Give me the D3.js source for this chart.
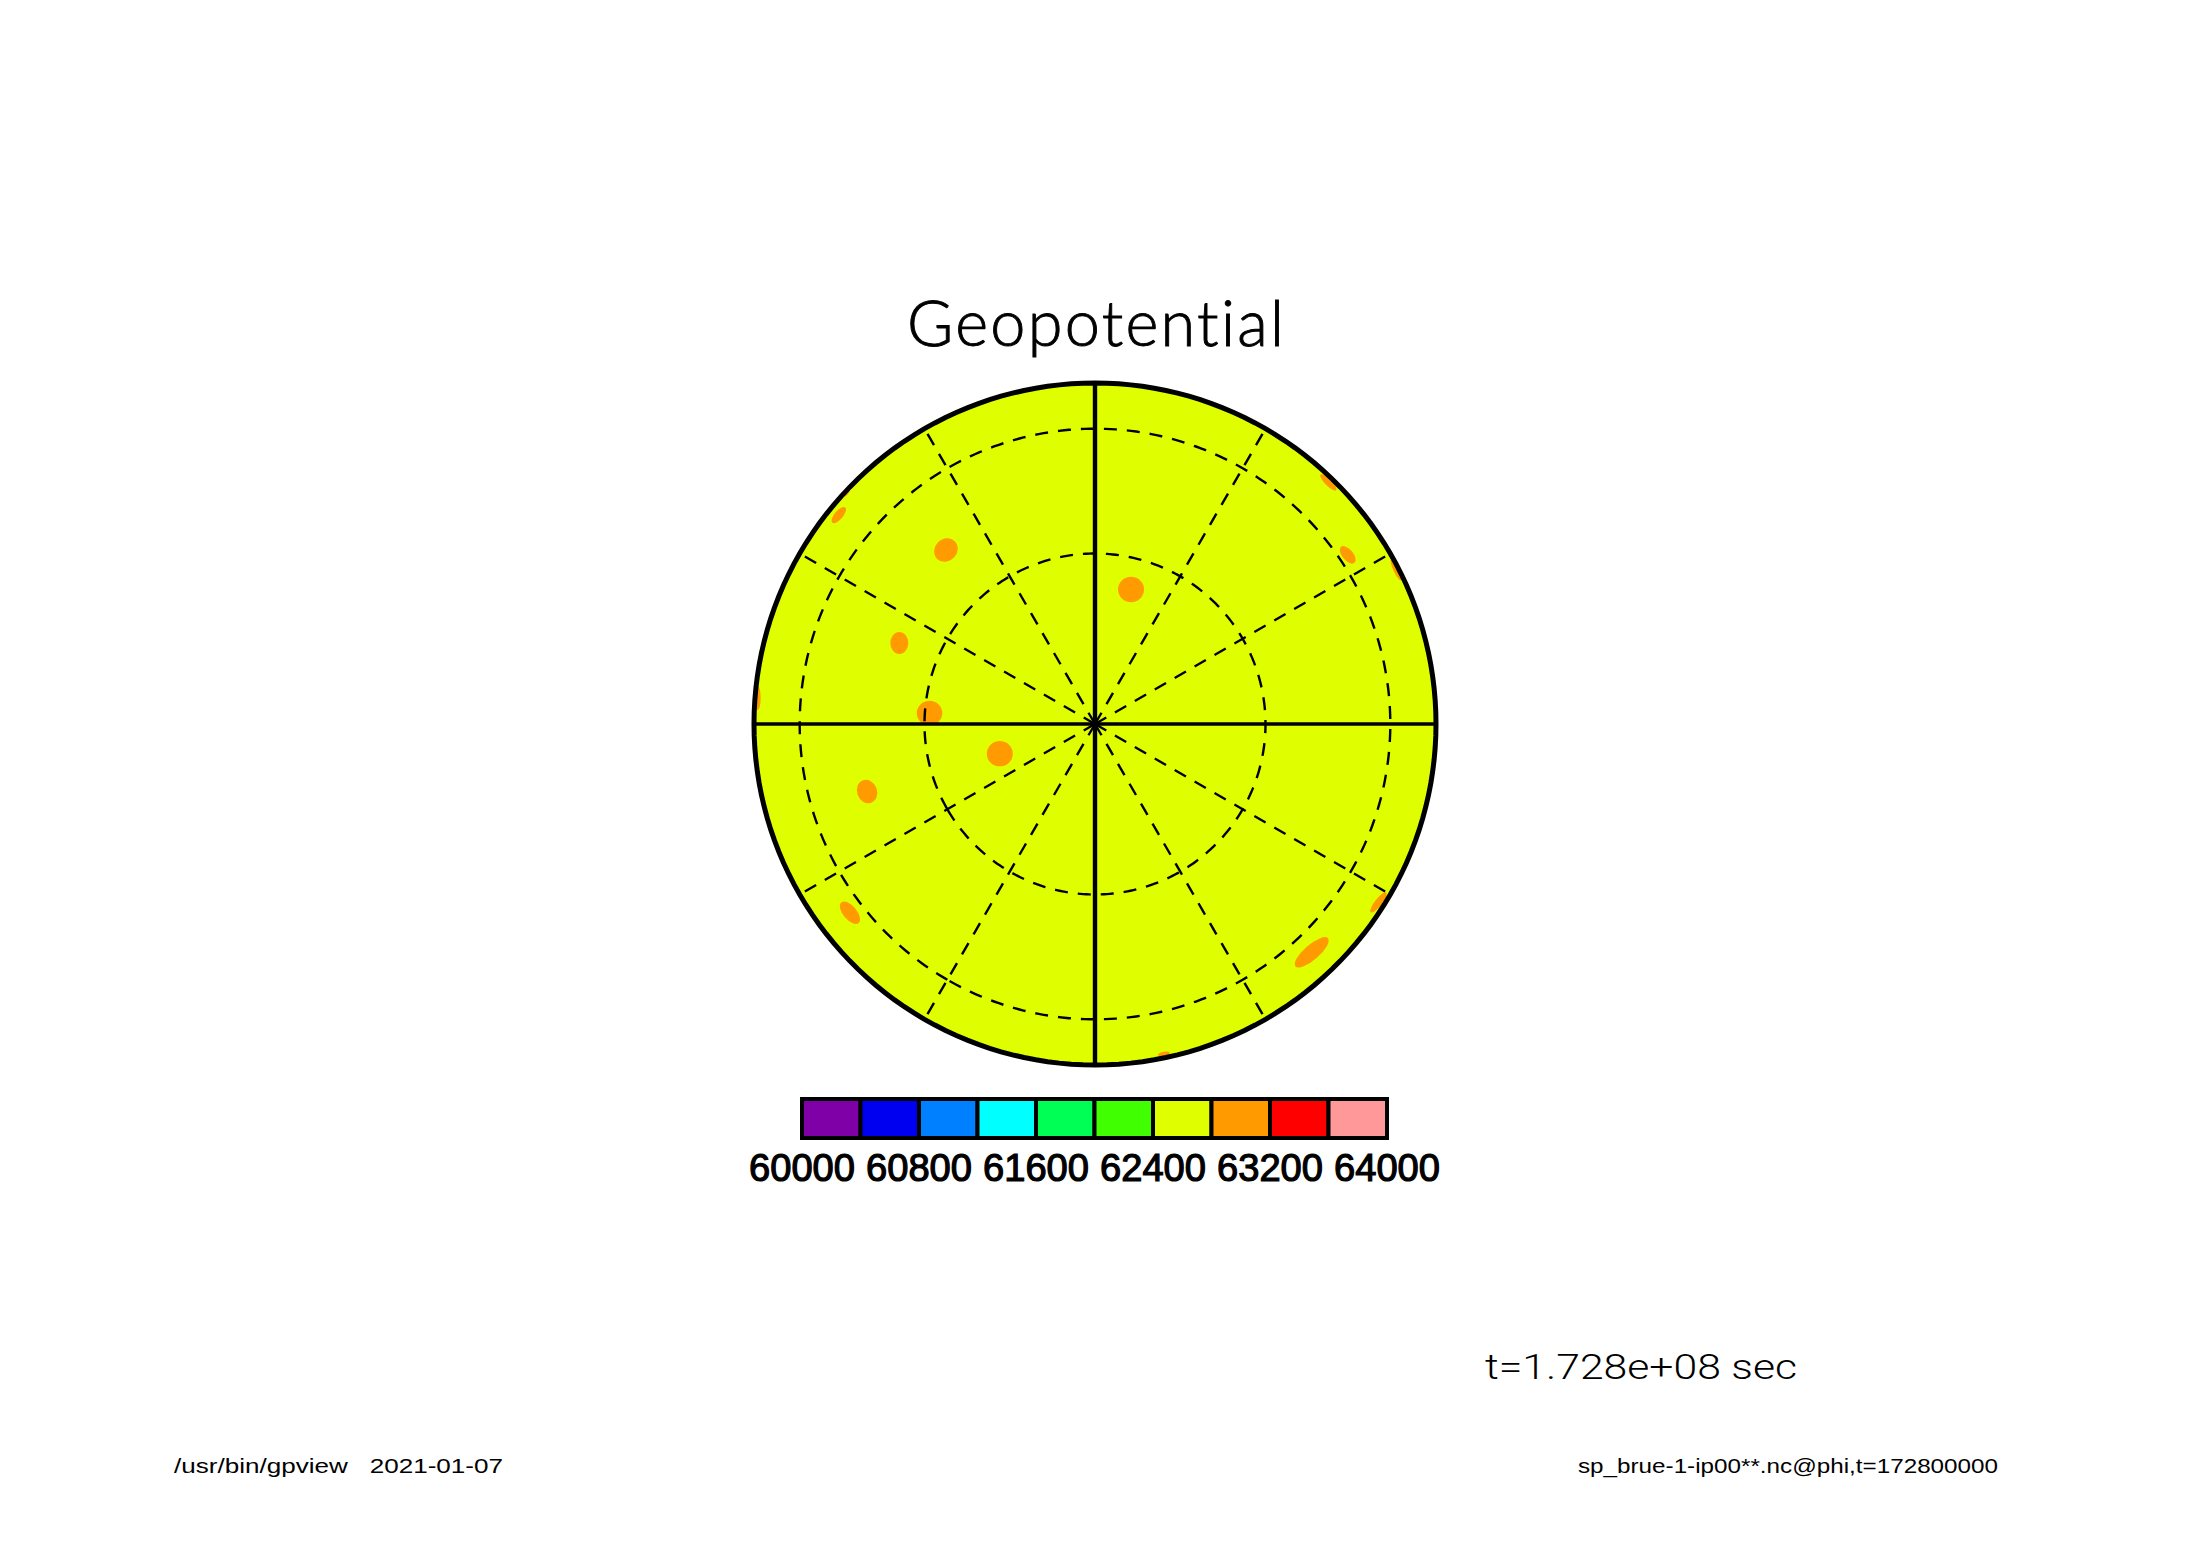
<!DOCTYPE html>
<html><head><meta charset="utf-8">
<script src="https://cdn.jsdelivr.net/npm/d3@7"></script>
<style>html,body{margin:0;background:#fff}svg{display:block}text{white-space:pre;font-variant-ligatures:none}</style></head>
<body><div id="chart"></div>
<script>
// data
const titleText = "Geopotential";
const timeText = "t=1.728e+08 sec";
const footLeft = "/usr/bin/gpview   2021-01-07";
const footRight = "sp_brue-1-ip00**.nc@phi,t=172800000";
const levels = [60000,60400,60800,61200,61600,62000,62400,62800,63200,63600,64000];
const levelColors = ["#8000a8","#0000f0","#0080ff","#00ffff","#00ff55","#40ff00","#dfff00","#ff9b00","#ff0000","#ff9999"];
const tickValues = [60000,60800,61600,62400,63200,64000];
const parallels = [60,30];
const meridiansDashed = [30,60,120,150,210,240,300,330];
const meridiansSolid = [0,90,180,270];
// orange regions (62800-63200): lon, lat of each centre
const blobLon = [-139.4,-112.5,-93.8,-129.2,-132.9,-94.4,165,123.8,136,117.1,-72.7,-73.5,-52.4,43.5,57.8,11.8];
const blobLat = [47.8,51.6,60.9,14.2,6,7.2,65.9,26.9,9.9,7.4,73,45.8,24.9,22.6,10.8,8.8];
// their extent: long and short half-axis, and tilt in degrees
const blobLong = [12.5,11,12.8,10,4,12,13,10.5,11,11.5,13,12,13.5,21.5,12.5,6];
const blobShort = [11,9,12.2,4.2,1.7,3,12.7,5.5,3.4,2.6,12.7,10,6.8,7.5,3.6,2.2];
const blobTilt = [-45,90,0,-50,-50,90,0,50,45,65,0,70,50,-41,-52,-10];

const W=2188,H=1546;
const svg=d3.select("#chart").append("svg").attr("width",W).attr("height",H);
const projection=d3.geoOrthographic().rotate([0,-90]).scale(341).translate([1095,724]).clipAngle(90).precision(0.1);
const path=d3.geoPath(projection);
const black="#000";

svg.append("clipPath").attr("id","disk").append("path").attr("d",path({type:"Sphere"}));
svg.append("path").attr("d",path({type:"Sphere"})).attr("fill",levelColors[6]);

svg.append("g").attr("clip-path","url(#disk)").selectAll("ellipse").data(blobLon).join("ellipse")
  .attr("transform",(d,i)=>{const p=projection([d,blobLat[i]]);return `translate(${p[0]},${p[1]}) rotate(${blobTilt[i]})`;})
  .attr("rx",(d,i)=>blobLong[i]).attr("ry",(d,i)=>blobShort[i]).attr("fill",levelColors[7]);

const meridian=lon=>({type:"LineString",coordinates:[[lon,89.999],[lon,0.01]]});
svg.append("g").selectAll("path").data(meridiansDashed).join("path")
  .attr("d",d=>path(meridian(d))).attr("fill","none").attr("stroke",black).attr("stroke-width",2.4).attr("stroke-dasharray","13 10");
svg.append("g").selectAll("path").data(parallels).join("path")
  .attr("d",d=>path(d3.geoCircle().center([0,90]).radius(90-d).precision(1)())).attr("fill","none").attr("stroke",black).attr("stroke-width",2.4).attr("stroke-dasharray","13 10");
svg.append("g").selectAll("path").data(meridiansSolid).join("path")
  .attr("d",d=>path(meridian(d))).attr("fill","none").attr("stroke",black).attr("stroke-width",d=>(d%180===0)?4.4:3.6);
svg.append("path").attr("d",path({type:"Sphere"})).attr("fill","none").attr("stroke",black).attr("stroke-width",5);

// colour bar
const bar=d3.scaleLinear().domain([60000,64000]).range([802,1387]);
const barTop=1099,barBottom=1138;
const cb=svg.append("g");
cb.selectAll("rect").data(levelColors).join("rect")
  .attr("x",(d,i)=>bar(levels[i])).attr("width",(d,i)=>bar(levels[i+1])-bar(levels[i]))
  .attr("y",barTop).attr("height",barBottom-barTop).attr("fill",d=>d)
  .attr("stroke",black).attr("stroke-width",4);
const text=(s,x,y,size,len,anchor,family,weight,adjust)=>svg.append("text").attr("x",x).attr("y",y)
  .attr("font-size",size).attr("font-family",family).attr("font-weight",weight).attr("text-anchor",anchor)
  .attr("textLength",len).attr("lengthAdjust",adjust||"spacingAndGlyphs").text(s);
tickValues.forEach(v=>{
  text(String(v),bar(v),1181,38,106,"middle","Liberation Sans",400).attr("stroke",black).attr("stroke-width",1.2);
});
text(titleText,907,346,63,377,"start","Lato",300,"spacing").attr("stroke",black).attr("stroke-width",0.9);
text(timeText,1485,1379,35,312,"start","Roboto",300);
text(footLeft,174,1473,21,329,"start","Liberation Sans",400);
text(footRight,1578,1473,21,420,"start","Liberation Sans",400);
</script></body></html>
